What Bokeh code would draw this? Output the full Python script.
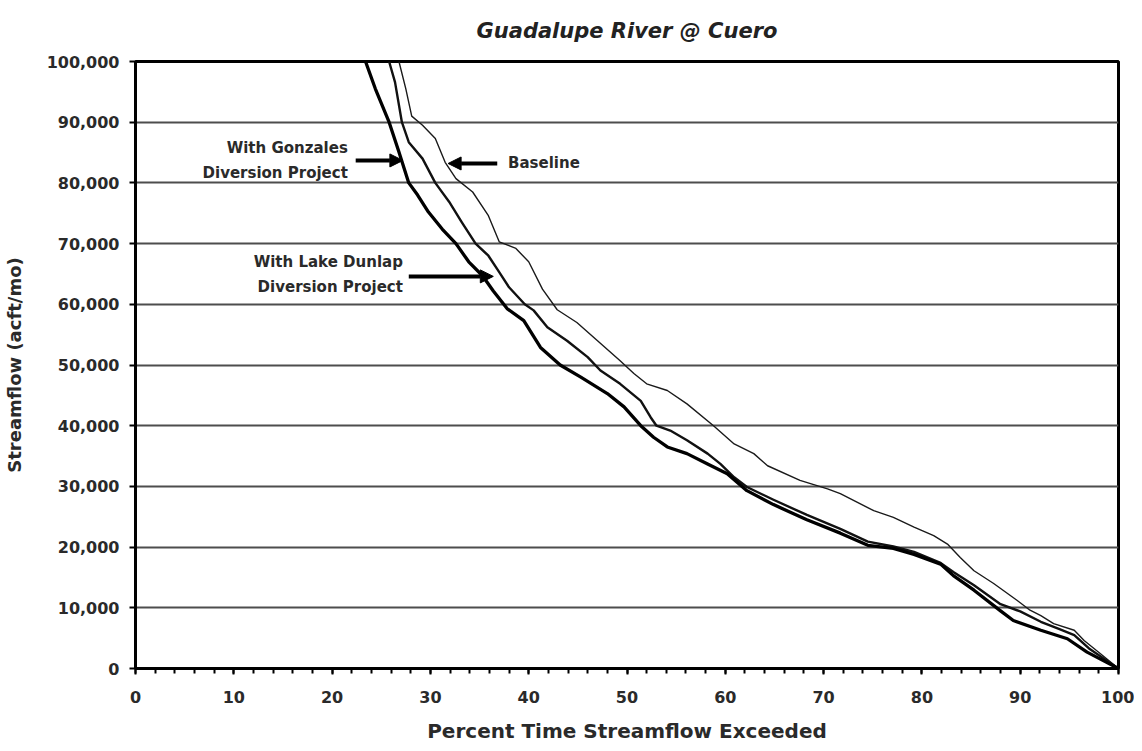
from bokeh.plotting import figure
from bokeh.models import Range1d, SingleIntervalTicker, NumeralTickFormatter, Arrow, NormalHead
from bokeh.core.properties import value
from bokeh.embed import file_html
from bokeh.resources import INLINE

# ---------------- data ----------------
gonz_x = [23.4, 24.4, 25.8, 26.8, 27.8, 28.7, 29.8, 31.2, 32.6, 33.9, 35.3, 36.4, 37.8,
          39.5, 41.2, 43.2, 45.3, 48.0, 49.7, 51.4, 52.7, 54.1, 56.1, 58.2, 60.2, 62.2,
          64.9, 68.3, 71.7, 74.5, 77.1, 79.2, 81.9, 83.2, 85.3, 88.0, 89.3, 92.1, 94.8,
          96.8, 100.0]
gonz_y = [100000, 95500, 90000, 85100, 80000, 78000, 75200, 72400, 70000, 67000, 64700,
          62200, 59300, 57300, 52900, 50000, 48000, 45300, 43100, 40000, 38100, 36500,
          35400, 33700, 32100, 29300, 27000, 24500, 22300, 20300, 19800, 18800, 17200,
          15300, 12900, 9500, 7900, 6300, 4900, 2700, 0]

dunlap_x = [25.8, 26.4, 27.1, 27.8, 29.2, 30.5, 31.9, 33.2, 34.6, 35.9, 37.0, 38.0, 39.6,
            40.5, 41.9, 43.9, 46.0, 47.3, 49.3, 51.4, 52.4, 53.0, 54.4, 56.1, 58.2, 59.5,
            60.9, 62.2, 64.9, 68.3, 71.7, 74.5, 77.1, 79.2, 81.9, 83.2, 85.3, 88.0, 90.0,
            92.1, 94.0, 95.5, 97.0, 100.0]
dunlap_y = [100000, 96600, 90000, 86700, 84000, 80000, 76900, 73500, 70000, 68000, 65300,
            62800, 60000, 59000, 56200, 54000, 51300, 49100, 46900, 44100, 41400, 40000,
            39200, 37600, 35400, 33700, 31500, 29900, 27800, 25300, 23000, 20900, 20100,
            19200, 17400, 15900, 13700, 10600, 9400, 7700, 6500, 5500, 3300, 0]

base_x = [26.8, 27.5, 28.1, 29.2, 30.5, 31.5, 32.6, 34.3, 35.9, 37.0, 38.7, 40.0, 41.4,
          42.9, 44.9, 47.0, 49.3, 50.7, 52.0, 54.1, 56.1, 58.8, 60.9, 62.9, 64.3, 67.6,
          70.4, 71.7, 75.1, 77.1, 79.2, 81.2, 82.6, 83.9, 85.3, 87.3, 89.7, 91.0, 92.1,
          93.4, 95.5, 96.5, 98.2, 100.0]
base_y = [100000, 95500, 91000, 89500, 87300, 83400, 80700, 78500, 74600, 70300, 69200,
          67000, 62500, 59100, 57000, 54000, 50700, 48600, 46900, 45800, 43600, 40000,
          37000, 35400, 33400, 31000, 29600, 28800, 26000, 24900, 23300, 21900, 20500,
          18300, 16100, 14000, 11200, 9600, 8700, 7400, 6300, 4600, 2400, 0]

title_text = "Guadalupe River @ Cuero"

# annotation texts and anchor positions (data units)
label_text = ["With Gonzales", "Diversion Project", "With Lake Dunlap", "Diversion Project"]
label_x = [21.6, 21.6, 27.2, 27.2]
label_y = [85700, 81700, 66900, 62900]
base_label = ["Baseline"]
base_label_x = [37.9]
base_label_y = [83200]
# arrows: (x_start, y_start, x_end, y_end)
arrows = [(22.4, 83700, 27.2, 83700),
          (36.8, 83200, 31.8, 83200),
          (27.8, 64600, 36.4, 64600)]

FONT = "DejaVu Sans"

p = figure(frame_width=983, frame_height=607,
           x_range=Range1d(0, 100), y_range=Range1d(0, 100000),
           output_backend="svg", toolbar_location=None,
           title=title_text,
           min_border_left=127, min_border_right=16,
           min_border_top=61, min_border_bottom=74)

p.background_fill_color = "white"
p.border_fill_color = "white"
p.outline_line_color = "black"
p.outline_line_width = 3

p.title.align = "center"
p.title.vertical_align = "top"
p.title.text_font = FONT
p.title.text_font_style = "bold italic"
p.title.text_font_size = "21px"
p.title.text_color = "#222222"
p.title.standoff = 34

p.xgrid.visible = False
p.ygrid.grid_line_color = "#4d4d4d"
p.ygrid.grid_line_width = 2

p.xaxis.ticker = SingleIntervalTicker(interval=10, num_minor_ticks=5)
p.yaxis.ticker = SingleIntervalTicker(interval=10000, num_minor_ticks=0)
p.yaxis.formatter = NumeralTickFormatter(format="0,0")

for ax in (p.xaxis, p.yaxis):
    ax.axis_line_color = "black"
    ax.axis_line_width = 3
    ax.major_tick_line_color = "black"
    ax.major_tick_line_width = 2
    ax.major_tick_in = 0
    ax.major_tick_out = 6
    ax.minor_tick_line_color = "black"
    ax.minor_tick_line_width = 2
    ax.minor_tick_in = 0
    ax.minor_tick_out = 5
    ax.major_label_text_font = FONT
    ax.major_label_text_font_style = "bold"
    ax.major_label_text_font_size = "16px"
    ax.major_label_text_color = "#2a2a2a"
    ax.axis_label_text_font = FONT
    ax.axis_label_text_font_style = "bold"
    ax.axis_label_text_color = "#2a2a2a"

p.xaxis.axis_label_text_font_size = "20px"
p.yaxis.axis_label_text_font_size = "18px"
p.xaxis.axis_label = "Percent Time Streamflow Exceeded"
p.yaxis.axis_label = "Streamflow (acft/mo)"
p.xaxis.major_label_standoff = 16
p.xaxis.axis_label_standoff = 13
p.yaxis.major_label_standoff = 10
p.yaxis.axis_label_standoff = 19

p.line(base_x, base_y, line_color="#1a1a1a", line_width=1.4, line_join="round")
p.line(dunlap_x, dunlap_y, line_color="#111111", line_width=2.4, line_join="round")
p.line(gonz_x, gonz_y, line_color="#000000", line_width=3.3, line_join="round")

p.text(x=label_x, y=label_y, text=label_text, text_font=value(FONT),
       text_font_style="bold", text_font_size="15px", text_align="right",
       text_baseline="middle", text_color="#2a2a2a")
p.text(x=base_label_x, y=base_label_y, text=base_label, text_font=value(FONT),
       text_font_style="bold", text_font_size="15px", text_align="left",
       text_baseline="middle", text_color="#2a2a2a")

for xs, ys, xe, ye in arrows:
    p.add_layout(Arrow(end=NormalHead(size=13, fill_color="black", line_color="black"),
                       x_start=xs, y_start=ys, x_end=xe, y_end=ye,
                       line_color="black", line_width=4))

open("out.html", "w").write(file_html(p, INLINE))
